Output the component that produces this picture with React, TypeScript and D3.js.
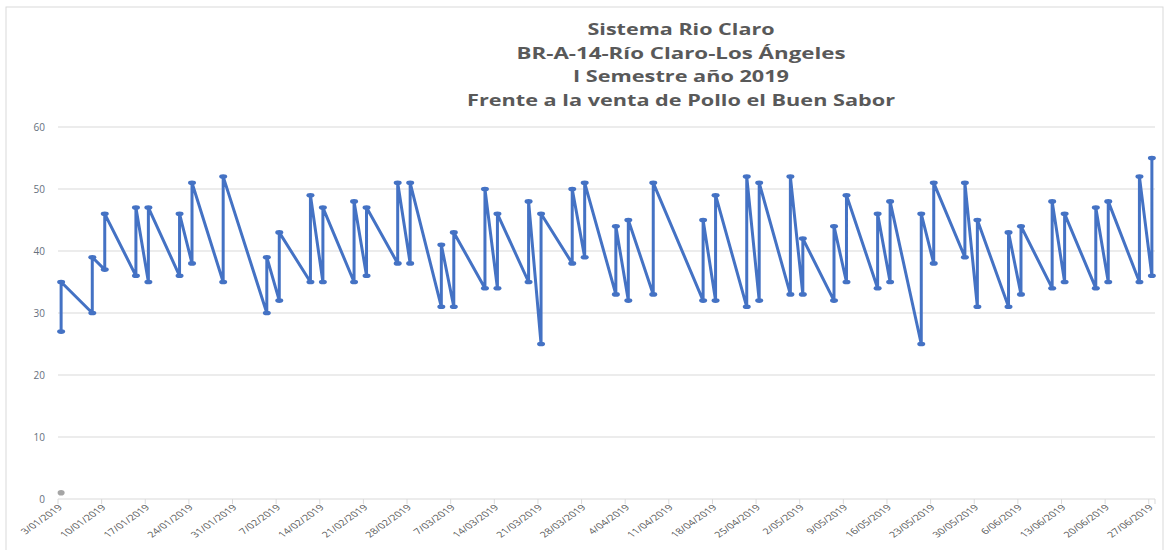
import React from "react";
import * as d3 from "d3";

const titleLines = [
  "Sistema Rio Claro",
  "BR-A-14-Río Claro-Los Ángeles",
  "I Semestre año 2019",
  "Frente a la venta de Pollo el Buen Sabor",
];
const titleWidths = [187, 329, 216, 428];

const sampleDates = [
  "3/01/2019", "8/01/2019", "10/01/2019", "15/01/2019", "17/01/2019", "22/01/2019", "24/01/2019", "29/01/2019",
  "5/02/2019", "7/02/2019", "12/02/2019", "14/02/2019", "19/02/2019", "21/02/2019", "26/02/2019", "28/02/2019",
  "5/03/2019", "7/03/2019", "12/03/2019", "14/03/2019", "19/03/2019", "21/03/2019", "26/03/2019", "28/03/2019",
  "2/04/2019", "4/04/2019", "8/04/2019", "16/04/2019", "18/04/2019", "23/04/2019", "25/04/2019", "30/04/2019",
  "2/05/2019", "7/05/2019", "9/05/2019", "14/05/2019", "16/05/2019", "21/05/2019", "23/05/2019", "28/05/2019",
  "30/05/2019", "4/06/2019", "6/06/2019", "11/06/2019", "13/06/2019", "18/06/2019", "20/06/2019", "25/06/2019",
  "27/06/2019",
];

const firstReading = [
  27, 30, 37, 36, 35, 36, 38, 35,
  30, 32, 35, 35, 35, 36, 38, 38,
  31, 31, 34, 34, 35, 25, 38, 39,
  33, 32, 33, 32, 32, 31, 32, 33,
  33, 32, 35, 34, 35, 25, 38, 39,
  31, 31, 33, 34, 35, 34, 35, 35,
  36,
];

const secondReading = [
  35, 39, 46, 47, 47, 46, 51, 52,
  39, 43, 49, 47, 48, 47, 51, 51,
  41, 43, 50, 46, 48, 46, 50, 51,
  44, 45, 51, 45, 49, 52, 51, 52,
  42, 44, 49, 46, 48, 46, 51, 51,
  45, 43, 44, 48, 46, 47, 48, 52,
  55,
];

const otherDates = ["3/01/2019"];
const otherValues = [1];

const yTicks = [0, 10, 20, 30, 40, 50, 60];
const axisStart = "3/01/2019";
const axisEnd = "28/06/2019";

const parse = d3.utcParse("%d/%m/%Y");
const fmt = d3.utcFormat("%-d/%m/%Y");

export default function App() {
  const W = 1169;
  const H = 550;
  const x = d3.scaleUtc().domain([parse(axisStart)!, parse(axisEnd)!]).range([58, 1155]);
  const y = d3.scaleLinear().domain([0, 60]).range([499, 127]);
  const mid = (s: string) => x(d3.utcHour.offset(parse(s)!, 12));

  const pts: [number, number][] = [];
  sampleDates.forEach((s, i) => {
    pts.push([mid(s), y(firstReading[i])]);
    pts.push([mid(s), y(secondReading[i])]);
  });
  const line = d3.line<[number, number]>().x((d) => d[0]).y((d) => d[1]);

  const ticks = d3.utcDay.range(parse(axisStart)!, parse(axisEnd)!, 7);

  return (
    <svg width={W} height={H} style={{ position: "absolute", left: 0, top: 0, background: "#fff" }}>
      <rect x={6} y={7} width={1157} height={560} fill="#fff" stroke="#d9d9d9" strokeWidth={1} />
      <g fontFamily="'Open Sans', sans-serif" fontWeight={700} fontSize={15.5} fill="#595959" textAnchor="middle">
        {titleLines.map((t, i) => (
          <text key={i} x={681} y={35 + i * 23.7} textLength={titleWidths[i]} lengthAdjust="spacingAndGlyphs">{t}</text>
        ))}
      </g>
      <g>
        {yTicks.map((v) => (
          <g key={v}>
            <line x1={58} x2={1155} y1={y(v)} y2={y(v)} stroke="#d9d9d9" strokeWidth={1} />
            <text x={45} y={y(v) + 3.5} textAnchor="end" fontSize={10} fill="#66707d" fontFamily="'Open Sans', sans-serif">{v}</text>
          </g>
        ))}
      </g>
      <g>
        {ticks.map((t, i) => (
          <g key={i}>
            <line x1={x(t)} x2={x(t)} y1={499} y2={504} stroke="#d9d9d9" />
            <text
              transform={`translate(${x(t) + 5},${508}) scale(1.4,1) rotate(-45)`}
              textAnchor="end"
              fontSize={8}
              fill="#595959"
              fontFamily="'Open Sans', sans-serif"
            >
              {fmt(t)}
            </text>
          </g>
        ))}
        <line x1={x.range()[1]} x2={x.range()[1]} y1={499} y2={504} stroke="#d9d9d9" />
      </g>
      <path d={line(pts) || ""} fill="none" stroke="#4472c4" strokeWidth={3} strokeLinejoin="round" />
      {pts.map((p, i) => (
        <ellipse key={i} cx={p[0]} cy={p[1]} rx={4} ry={2.3} fill="#4472c4" />
      ))}
      {otherDates.map((s, i) => (
        <ellipse key={i} cx={mid(s)} cy={y(otherValues[i])} rx={3.5} ry={2.8} fill="#a5a5a5" />
      ))}
    </svg>
  );
}
